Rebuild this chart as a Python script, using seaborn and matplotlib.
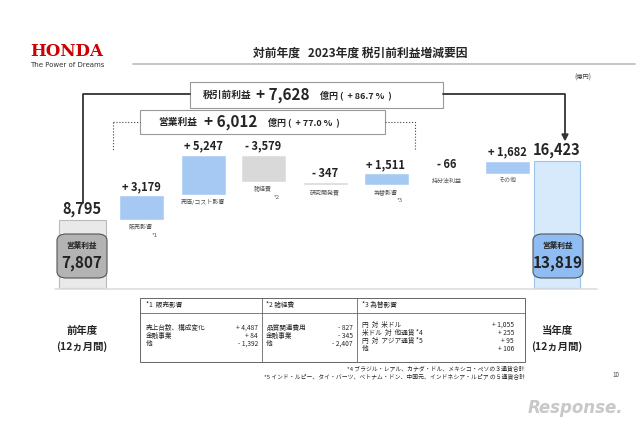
import matplotlib
matplotlib.use("Agg")
import matplotlib.pyplot as plt
import seaborn as sns
from matplotlib.patches import FancyBboxPatch, Rectangle

sns.set_style("white")
FONT = "Noto Sans CJK JP"
plt.rcParams["font.family"] = FONT

# ---- data ----
start_value = 8795
end_value = 16423
start_op = 7807
end_op = 13819
step_labels = ["販売影響", "売価/コスト影響", "諸経費", "研究開発費", "為替影響", "持分法利益", "その他"]
step_notes = ["*1", "", "*2", "", "*3", "", ""]
step_values = [3179, 5247, -3579, -347, 1511, -66, 1682]
step_text = ["+ 3,179", "+ 5,247", "- 3,579", "- 347", "+ 1,511", "- 66", "+ 1,682"]

W, H = 640, 426
fig = plt.figure(figsize=(6.4, 4.26), dpi=100)
ax = fig.add_axes([0, 0, 1, 1])
SC = 129.0
BASE = 288
ax.set_xlim(0, W)
ax.set_ylim(-(H - BASE) * SC, BASE * SC)
ax.axis("off")

def fx(x): return x / W
def fy(y): return 1 - y / H
def T(x, y, s, **kw): fig.text(fx(x), fy(y), s, **kw)

xs = [141, 203, 263, 325, 386, 447, 507]
bw = 45
blue, grey = "#a6c9f4", "#d9d9d9"
ax.bar(82, start_value, width=47, color="#e9e9e9", edgecolor="#bbbbbb", lw=0.8)
ax.bar(557, end_value, width=46, color="#d6eafc", edgecolor="#9cc4ea", lw=0.8)
cum = start_value
for x, v, t, lab, note in zip(xs, step_values, step_text, step_labels, step_notes):
    b = cum if v > 0 else cum + v
    ax.bar(x, abs(v), bottom=b, width=bw, color=blue if v > 0 else grey)
    top = max(cum, cum + v)
    ax.text(x, top + 300, t, ha="center", va="bottom", fontsize=8, fontweight="bold", color="#222")
    ax.text(x, b - 500, lab, ha="center", va="top", fontsize=4.3, color="#555")
    if note:
        ax.text(x + 14, b - 1700, note, ha="center", va="top", fontsize=4.3, color="#555")
    cum += v
ax.text(82, start_value + 400, f"{start_value:,}", ha="center", va="bottom", fontsize=10.5, fontweight="bold")
ax.text(557, end_value + 400, f"{end_value:,}", ha="center", va="bottom", fontsize=10.5, fontweight="bold")

for (x0, col, v) in [(57, "#b3b3b3", start_op), (533, "#8fbdf3", end_op)]:
    p = FancyBboxPatch((fx(x0), fy(278)), fx(50), 44 / H, boxstyle="round,pad=0,rounding_size=0.015",
                       transform=fig.transFigure, fc=col, ec="#555", lw=0.8)
    fig.patches.append(p)
    T(x0 + 25, 245, "営業利益", ha="center", va="center", fontsize=5.5, fontweight="bold", color="#222")
    T(x0 + 25, 263, f"{v:,}", ha="center", va="center", fontsize=11, fontweight="bold", color="#222")

fig.lines.append(plt.Line2D([fx(55), fx(597)], [fy(289), fy(289)], color="#dddddd", lw=1.2, transform=fig.transFigure))

T(30, 52, "HONDA", fontsize=12, fontweight="bold", color="#cc0000", family="DejaVu Serif", va="center")
T(30, 65, "The Power of Dreams", fontsize=5, color="#333", va="center", family="DejaVu Sans")
T(360, 53, "対前年度   2023年度 税引前利益増減要因", fontsize=8.5, fontweight="bold", ha="center", va="center")
fig.lines.append(plt.Line2D([fx(133), fx(635)], [fy(64), fy(64)], color="#bbbbbb", lw=1.2, transform=fig.transFigure))
T(583, 78, "(億円)", fontsize=4.5, ha="center", va="center", color="#444")

def L(xsx, ysy, **kw):
    fig.lines.append(plt.Line2D([fx(a) for a in xsx], [fy(b) for b in ysy], transform=fig.transFigure, **kw))
L([83, 83, 190], [203, 94, 94], color="#333", lw=1.3)
L([443, 565, 565], [94, 94, 136], color="#333", lw=1.3)
fig.patches.append(plt.Polygon([(fx(562), fy(134)), (fx(568), fy(134)), (fx(565), fy(140))],
                               closed=True, transform=fig.transFigure, color="#333"))
fig.patches.append(Rectangle((fx(190), fy(108)), fx(253), 26 / H, transform=fig.transFigure,
                             fc="white", ec="#999", lw=0.8))
T(203, 95, "税引前利益", fontsize=7, fontweight="bold", va="center")
T(256, 95, "+ 7,628", fontsize=11, fontweight="bold", va="center")
T(320, 95, "億円 (  + 86.7 %  )", fontsize=6.5, fontweight="bold", va="center")

L([113, 113], [122, 150], color="#444", lw=0.8, ls=":")
L([113, 140], [122, 122], color="#444", lw=0.8, ls=":")
L([385, 415, 415], [122, 122, 150], color="#444", lw=0.8, ls=":")
fig.patches.append(Rectangle((fx(140), fy(134)), fx(245), 24 / H, transform=fig.transFigure,
                             fc="white", ec="#999", lw=0.8))
T(158, 122, "営業利益", fontsize=7, fontweight="bold", va="center")
T(204, 122, "+ 6,012", fontsize=11, fontweight="bold", va="center")
T(268, 122, "億円 (  + 77.0 %  )", fontsize=6.5, fontweight="bold", va="center")

for x, s in [(82, "前年度"), (557, "当年度")]:
    T(x, 331, s, ha="center", va="center", fontsize=7.5, fontweight="bold")
    T(x, 347, "(12ヵ月間)", ha="center", va="center", fontsize=7.5, fontweight="bold")

fig.patches.append(Rectangle((fx(140), fy(362)), fx(385), 64 / H, transform=fig.transFigure,
                             fc="white", ec="#666", lw=0.7))
L([140, 525], [313, 313], color="#666", lw=0.6)
L([262, 262], [298, 362], color="#666", lw=0.6)
L([357, 357], [298, 362], color="#666", lw=0.6)
fs = 4.8
T(146, 305, "*1  販売影響", fontsize=fs, va="center")
T(266, 305, "*2 諸経費", fontsize=fs, va="center")
T(362, 305, "*3 為替影響", fontsize=fs, va="center")
c1 = [("売上台数、構成変化", "+ 4,487"), ("金融事業", "+ 84"), ("他", "- 1,392")]
c2 = [("品質関連費用", "- 827"), ("金融事業", "- 345"), ("他", "- 2,407")]
c3 = [("円  対  米ドル", "+ 1,055"), ("米ドル  対  他通貨 *4", "+ 255"), ("円  対  アジア通貨 *5", "+ 95"), ("他", "+ 106")]
for i, (a, b) in enumerate(c1):
    T(146, 328 + i * 8, a, fontsize=fs, va="center"); T(258, 328 + i * 8, b, fontsize=fs, va="center", ha="right")
for i, (a, b) in enumerate(c2):
    T(266, 328 + i * 8, a, fontsize=fs, va="center"); T(353, 328 + i * 8, b, fontsize=fs, va="center", ha="right")
for i, (a, b) in enumerate(c3):
    T(362, 325 + i * 8, a, fontsize=fs, va="center"); T(514, 325 + i * 8, b, fontsize=fs, va="center", ha="right")
T(525, 368, "*4 ブラジル・レアル、カナダ・ドル、メキシコ・ペソの３通貨合計", fontsize=4.2, ha="right", va="center")
T(525, 376, "*5 インド・ルピー、タイ・バーツ、ベトナム・ドン、中国元、インドネシア・ルピア の５通貨合計", fontsize=4.2, ha="right", va="center")
T(616, 375, "10", fontsize=4.5, ha="center", va="center", color="#444")
T(575, 408, "Response.", fontsize=12, ha="center", va="center", color="#c8c8c8", style="italic",
  fontweight="bold", family="DejaVu Sans")

fig.savefig("out.png", dpi=100, facecolor="white")
